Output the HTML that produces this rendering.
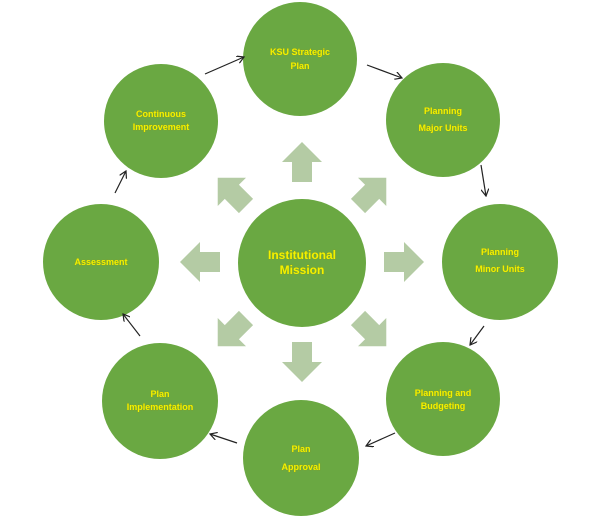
<!DOCTYPE html>
<html><head><style>html,body{margin:0;padding:0;background:#fff}svg{display:block}
text{font-family:"Liberation Sans",sans-serif;font-weight:bold;font-size:9px;fill:#f2f200;text-anchor:middle;paint-order:stroke;stroke:#8a9a20;stroke-width:0.6px}
</style></head><body>
<svg width="603" height="521" viewBox="0 0 603 521" xmlns="http://www.w3.org/2000/svg">
<defs>
<marker id="a" markerWidth="8" markerHeight="8" refX="7" refY="4" orient="auto" markerUnits="userSpaceOnUse"><path d="M0,0 L7,4 L0,8" fill="none" stroke="#222" stroke-width="1.2"/></marker>
<path id="ba" d="M0,-10 L20,-10 L20,-20 L40,0 L20,20 L20,10 L0,10 Z" fill="#b4cba4"/>
</defs>
<g fill="#6aa842">
<circle cx="300" cy="59" r="57"/>
<circle cx="443" cy="120" r="57"/>
<circle cx="500" cy="262" r="58"/>
<circle cx="443" cy="399" r="57"/>
<circle cx="301" cy="458" r="58"/>
<circle cx="160" cy="401" r="58"/>
<circle cx="101" cy="262" r="58"/>
<circle cx="161" cy="121" r="57"/>
<circle cx="302" cy="263" r="64"/>
</g>
<use href="#ba" transform="translate(302,182) rotate(-90)"/>
<use href="#ba" transform="translate(384,262)"/>
<use href="#ba" transform="translate(302,342) rotate(90)"/>
<use href="#ba" transform="translate(220,262) rotate(180)"/>
<use href="#ba" transform="translate(358,206) rotate(-45)"/>
<use href="#ba" transform="translate(358,318) rotate(45)"/>
<use href="#ba" transform="translate(246,318) rotate(135)"/>
<use href="#ba" transform="translate(246,206) rotate(-135)"/>
<g stroke="#222" stroke-width="1.2" marker-end="url(#a)">
<line x1="205" y1="74" x2="244" y2="57"/>
<line x1="367" y1="65" x2="402" y2="78"/>
<line x1="481" y1="165" x2="486" y2="196"/>
<line x1="484" y1="326" x2="470" y2="345"/>
<line x1="395" y1="433" x2="366" y2="446"/>
<line x1="237" y1="443" x2="210" y2="434"/>
<line x1="140" y1="336" x2="123" y2="314"/>
<line x1="115" y1="193" x2="126" y2="171"/>
</g>
<text x="300" y="55">KSU Strategic</text><text x="300" y="69">Plan</text>
<text x="443" y="114">Planning</text><text x="443" y="131">Major Units</text>
<text x="500" y="255">Planning</text><text x="500" y="272">Minor Units</text>
<text x="443" y="396">Planning and</text><text x="443" y="409">Budgeting</text>
<text x="301" y="452">Plan</text><text x="301" y="470">Approval</text>
<text x="160" y="397">Plan</text><text x="160" y="410">Implementation</text>
<text x="101" y="265">Assessment</text>
<text x="161" y="117">Continuous</text><text x="161" y="130">Improvement</text>
<text x="302" y="259" style="font-size:12px">Institutional</text><text x="302" y="274" style="font-size:12px">Mission</text>
</svg>
</body></html>
